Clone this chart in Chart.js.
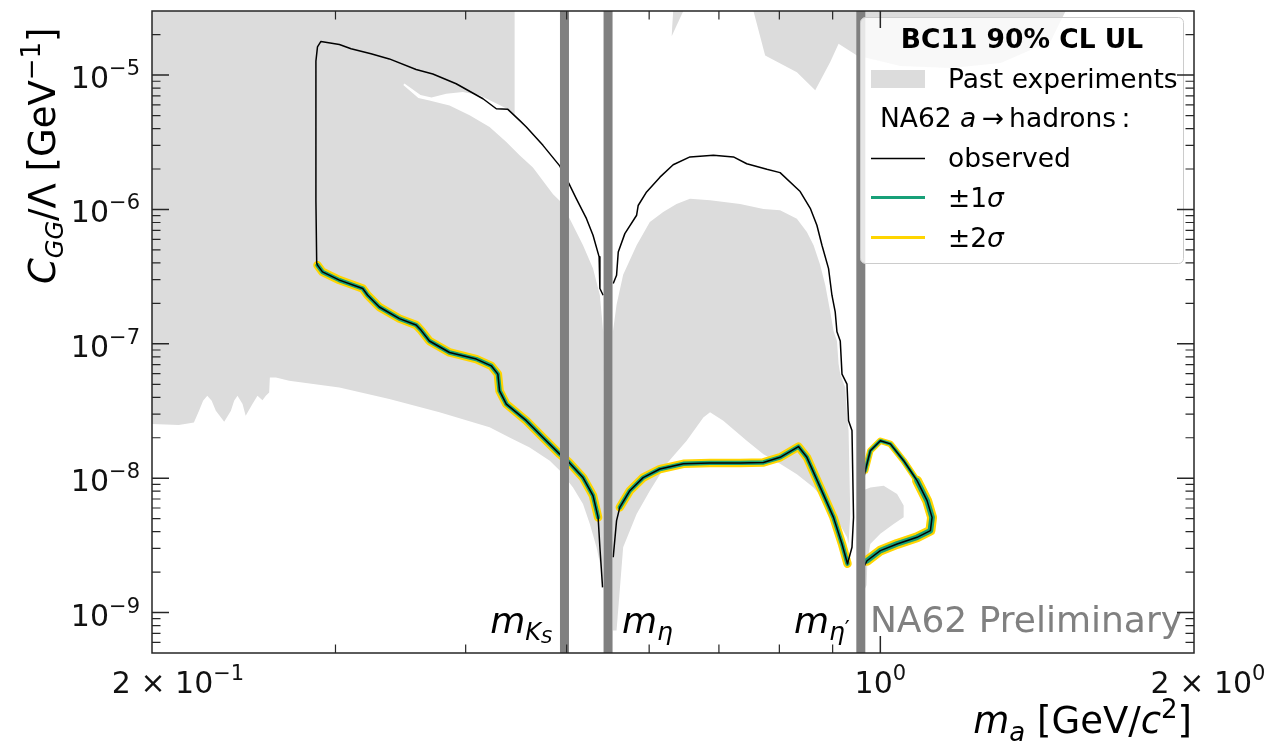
<!DOCTYPE html>
<html>
<head>
<meta charset="utf-8">
<title>BC11 90% CL UL – NA62 a → hadrons</title>
<script src="https://cdn.jsdelivr.net/npm/chart.js@4.4.1/dist/chart.umd.min.js"></script>
<style>
html,body{margin:0;padding:0;background:#ffffff;}
#wrap{width:1272px;height:747px;}
canvas{display:block;}
</style>
</head>
<body>
<div id="wrap"><canvas id="chart" width="1272" height="747"></canvas></div>
<script>
// ---------------- axis ranges / ticks ----------------
const xRange = [0.2, 2];            // m_a [GeV/c^2]
const yRange = [5e-10, 3e-5];       // C_GG/Lambda [GeV^-1]
const yMajorTicks = [1e-9, 1e-8, 1e-7, 1e-6, 1e-5];
const yTickExps = ['\u22129', '\u22128', '\u22127', '\u22126', '\u22125'];
const xMajorTicks = [1];
const xMinorTicks = [0.3, 0.4, 0.5, 0.6, 0.7, 0.8, 0.9];
const xTickLabelValues = [0.2, 1, 2];
const xTickLabelMant = ['2', '', '2'];
const xTickLabelExp = ['\u22121', '0', '0'];

// ---------------- meson masses (vertical bands) ----------------
const massValues = [0.4976, 0.5479, 0.9578];

// ---------------- NA62 observed limit contour ----------------
const obsLeftTop = [
  [0.2878,4.00e-7],[0.2873,1.16e-6],[0.2873,6.41e-6],[0.2873,1.27e-5],[0.2883,1.62e-5],[0.2905,1.78e-5],
  [0.3026,1.69e-5],[0.3105,1.57e-5],[0.3245,1.44e-5],[0.3379,1.32e-5],[0.3585,1.10e-5],[0.3720,1.02e-5],
  [0.3917,8.62e-6],[0.4156,6.67e-6],[0.4280,5.62e-6],[0.4391,5.56e-6],[0.4506,4.60e-6],[0.4574,4.11e-6],
  [0.4745,3.00e-6],[0.4924,2.11e-6],[0.5027,1.55e-6],[0.5109,1.20e-6],[0.5224,8.54e-7],[0.5300,6.43e-7],
  [0.5372,4.44e-7],[0.5381,2.58e-7],[0.5420,2.30e-7]
];
const obsLeftBottom = [
  [0.2883,3.85e-7],[0.2915,3.43e-7],[0.3026,2.98e-7],[0.3186,2.58e-7],[0.3221,2.30e-7],[0.3305,1.88e-7],
  [0.3455,1.54e-7],[0.3585,1.38e-7],[0.3625,1.26e-7],[0.3692,1.05e-7],[0.3860,8.62e-8],[0.4095,7.70e-8],
  [0.4233,6.86e-8],[0.4295,5.95e-8],[0.4311,4.47e-8],[0.4376,3.56e-8],[0.4574,2.68e-8],[0.4745,2.01e-8],
  [0.4924,1.51e-8],[0.5027,1.31e-8],[0.5184,1.01e-8],[0.5300,7.41e-9],[0.5360,5.11e-9],[0.5381,3.06e-9],
  [0.5413,1.54e-9]
];
const obsMidTop = [
  [0.5542,2.81e-7],[0.5583,3.24e-7],[0.5604,4.83e-7],[0.5686,6.61e-7],[0.5836,9.06e-7],[0.5856,1.07e-6],
  [0.5966,1.35e-6],[0.6145,1.74e-6],[0.6327,2.15e-6],[0.6566,2.46e-6],[0.6915,2.53e-6],[0.7228,2.46e-6],
  [0.7444,2.19e-6],[0.7782,1.99e-6],[0.8013,1.88e-6],[0.8377,1.36e-6],[0.8566,1.02e-6],[0.8692,7.63e-7],
  [0.8790,5.42e-7],[0.8919,3.63e-7],[0.8986,2.30e-7],[0.9051,1.73e-7],[0.9086,1.23e-7],[0.9153,1.05e-7],
  [0.9188,5.95e-8],[0.9290,5.02e-8],[0.9322,2.68e-8],[0.9393,2.26e-8],[0.9425,5.11e-9],[0.9393,3.06e-9],
  [0.9300,2.31e-9]
];
const obsMidBottom = [
  [0.5542,2.58e-9],[0.5583,4.83e-9],[0.5623,6.07e-9],[0.5749,8.07e-9],[0.5921,1.01e-8],[0.6145,1.17e-8],
  [0.6470,1.28e-8],[0.6864,1.30e-8],[0.7335,1.30e-8],[0.7724,1.31e-8],[0.8013,1.43e-8],[0.8345,1.72e-8],
  [0.8502,1.43e-8],[0.8757,8.54e-9],[0.9017,5.11e-9],[0.9188,3.24e-9],[0.9300,2.31e-9]
];
const obsRight = [
  [0.963,9.6e-9],[0.9673,1.14e-8],[0.9781,1.60e-8],[1.0000,1.90e-8],[1.0224,1.80e-8],[1.0529,1.35e-8],
  [1.0846,9.58e-9],[1.1089,6.80e-9],[1.1211,5.11e-9],[1.1170,4.07e-9],[1.0846,3.63e-9],[1.0377,3.24e-9],
  [1.0000,2.89e-9],[0.9710,2.43e-9],[0.963,2.15e-9]
];

// ---------------- past experiments (excluded regions) ----------------
const pastLeft = [
  [0.2,3e-5],[0.4457,3e-5],[0.4457,4.99e-6],[0.4391,5.56e-6],[0.4311,5.98e-6],[0.4125,7.07e-6],[0.3975,7.48e-6],
  [0.3832,7.26e-6],[0.3709,6.80e-6],[0.3620,7.10e-6],[0.3494,8.65e-6],[0.3485,8.43e-6],[0.3603,6.75e-6],
  [0.3692,6.46e-6],[0.3860,5.95e-6],[0.4035,5.02e-6],[0.4217,4.11e-6],[0.4376,3.18e-6],[0.4506,2.53e-6],
  [0.4641,2.05e-6],[0.4852,1.30e-6],[0.4924,1.16e-6],[0.5034,8.54e-7],[0.5184,5.42e-7],[0.5300,3.63e-7],
  [0.5381,2.30e-7],[0.5420,1.23e-7],[0.5422,1.46e-9],[0.5401,2.05e-9],[0.5341,3.06e-9],[0.5263,4.57e-9],
  [0.5184,6.43e-9],[0.5071,8.54e-9],[0.4924,1.14e-8],[0.4817,1.35e-8],[0.4608,1.69e-8],[0.4407,2.01e-8],
  [0.4217,2.39e-8],[0.3775,3.09e-8],[0.3379,3.88e-8],[0.3026,4.73e-8],[0.2708,5.31e-8],[0.2630,5.62e-8],
  [0.2595,5.62e-8],[0.2591,4.35e-8],[0.2572,4.11e-8],[0.2553,3.81e-8],[0.2525,4.11e-8],[0.2497,3.56e-8],
  [0.2460,2.92e-8],[0.2443,3.56e-8],[0.2416,4.11e-8],[0.2398,3.77e-8],[0.2381,3.18e-8],[0.2346,2.63e-8],
  [0.2303,3.18e-8],[0.2282,3.77e-8],[0.2260,4.11e-8],[0.2239,3.77e-8],[0.2219,3.18e-8],[0.2194,2.60e-8],
  [0.2122,2.49e-8],[0.2,2.53e-8]
];
const pastMid = [
  [0.5538,1.23e-7],[0.5583,1.95e-7],[0.5665,3.26e-7],[0.5836,5.42e-7],[0.6009,8.07e-7],[0.6189,9.58e-7],
  [0.6374,1.10e-6],[0.6566,1.20e-6],[0.6864,1.17e-6],[0.7335,1.10e-6],[0.7724,1.01e-6],[0.8013,9.87e-7],
  [0.8316,8.54e-7],[0.8502,6.80e-7],[0.8629,5.42e-7],[0.8757,3.85e-7],[0.8855,2.73e-7],[0.8952,1.73e-7],
  [0.9017,1.25e-7],[0.9086,1.05e-7],[0.9119,7.07e-8],[0.9153,5.95e-8],[0.9254,4.73e-8],[0.9290,3.00e-8],
  [0.9322,2.26e-8],[0.9358,5.45e-9],[0.9322,3.24e-9],[0.9290,3.63e-9],[0.8952,6.07e-9],[0.8629,8.54e-9],
  [0.8316,1.07e-8],[0.8013,1.28e-8],[0.7724,1.51e-8],[0.7444,1.90e-8],[0.7068,2.68e-8],[0.6864,3.09e-8],
  [0.6763,2.83e-8],[0.6518,1.90e-8],[0.6236,1.28e-8],[0.6009,8.07e-9],[0.5836,5.42e-9],[0.5665,3.06e-9],
  [0.5583,7.35e-10],[0.5538,7.35e-10]
];
const pastTopA = [[0.6327,3e-5],[0.6470,3e-5],[0.6306,1.95e-5]];
const pastTopB = [
  [0.7555,3e-5],[0.7753,1.40e-5],[0.8316,1.05e-5],[0.8660,7.70e-6],[0.8952,1.25e-5],[0.9119,1.71e-5],
  [0.9497,1.40e-5],[1.0452,1.17e-5],[1.168,1.13e-5],[1.3046,1.23e-5],[1.457,1.79e-5],[1.506,3e-5]
];
const pastRight = [
  [0.9609,8.07e-9],[0.9781,8.54e-9],[1.0074,8.79e-9],[1.0377,7.63e-9],[1.0529,6.25e-9],[1.0529,5.11e-9],
  [1.0299,4.57e-9],[1.0000,3.86e-9],[0.9781,3.24e-9],[0.9720,2.43e-9],[0.9700,1.60e-9],[0.9609,1.36e-9]
];

// ---------------- legend text ----------------
const legendTitle = 'BC11 90% CL UL';
const legendLabels = ['Past experiments', 'NA62', 'observed', '\u00b11', '\u00b12'];

// ---------------- styles ----------------
const GRAY_FILL = '#dcdcdc';
const BAND_GRAY = '#808080';
const GREEN = '#17a078';
const YELLOW = '#ffd500';
const FONT = '"DejaVu Sans", "Liberation Sans", sans-serif';

const P = arr => arr.map(([x, y]) => ({x, y}));

const datasets = [];
[pastLeft, pastMid, pastTopA, pastTopB, pastRight].forEach(poly => datasets.push({
  data: P(poly), fill: 'shape', backgroundColor: GRAY_FILL, borderColor: 'rgba(0,0,0,0)',
  borderWidth: 0, pointRadius: 0, order: 10, clip: 0
}));
// expected-limit bands drawn along the lower (sensitive) edges of the contour
const bandPaths = [
  {path: obsLeftBottom.slice(0, 23), y: 8.5, g: 4.4},
  {path: obsMidBottom.slice(2), y: 8.5, g: 4.4},
  {path: obsRight.slice(1, 7), y: 6.5, g: 3.6},
  {path: obsRight.slice(6, 14), y: 10, g: 5.6}
];
bandPaths.forEach(b => {
  datasets.push({data: P(b.path), borderColor: YELLOW, borderWidth: b.y, pointRadius: 0, fill: false,
    borderJoinStyle: 'round', borderCapStyle: 'round', order: 6, clip: 0});
  datasets.push({data: P(b.path), borderColor: GREEN, borderWidth: b.g, pointRadius: 0, fill: false,
    borderJoinStyle: 'round', borderCapStyle: 'round', order: 5, clip: 0});
});
const obsPaths = [
  [...obsLeftBottom].reverse().concat(obsLeftTop),
  obsMidBottom.concat([...obsMidTop].reverse()),
  obsRight
];
obsPaths.forEach(path => datasets.push({data: P(path), borderColor: '#000000', borderWidth: 1.5,
  pointRadius: 0, fill: false, borderJoinStyle: 'round', order: 4, clip: 0}));
massValues.forEach(m => datasets.push({data: P([[m, yRange[0]], [m, yRange[1]]]), borderColor: BAND_GRAY,
  borderWidth: 9, pointRadius: 0, fill: false, order: 2, clip: 0}));

// ---------------- text helpers ----------------
function runsWidth(ctx, runs) {
  let w = 0;
  for (const r of runs) { ctx.font = r.f; w += ctx.measureText(r.t).width + (r.gap || 0); }
  return w;
}
function drawRuns(ctx, runs, x, y, align) {
  const w = runsWidth(ctx, runs);
  let cx = align === 'right' ? x - w : (align === 'center' ? x - w / 2 : x);
  ctx.textAlign = 'left'; ctx.textBaseline = 'alphabetic';
  for (const r of runs) {
    ctx.font = r.f;
    ctx.fillText(r.t, cx, y + (r.dy || 0));
    cx += ctx.measureText(r.t).width + (r.gap || 0);
  }
}
const f = (size, style) => (style ? style + ' ' : '') + size + 'px ' + FONT;

const decoPlugin = {
  id: 'deco',
  afterDatasetsDraw(chart) {
    const {ctx, chartArea: a, scales: {x, y}} = chart;
    ctx.save();
    ctx.fillStyle = '#000';

    // meson mass labels
    const pK = x.getPixelForValue(massValues[0]);
    const pE = x.getPixelForValue(massValues[1]);
    const pEp = x.getPixelForValue(massValues[2]);
    const mBase = 633;
    drawRuns(ctx, [{t: 'm', f: f(36, 'italic')}, {t: 'K', f: f(24, 'italic'), dy: 7}, {t: 'S', f: f(18, 'italic'), dy: 10}], pK - 12, mBase, 'right');
    drawRuns(ctx, [{t: 'm', f: f(36, 'italic')}, {t: '\u03b7', f: f(25, 'italic'), dy: 7}], pE + 14, mBase, 'left');
    drawRuns(ctx, [{t: 'm', f: f(36, 'italic')}, {t: '\u03b7', f: f(25, 'italic'), dy: 7}, {t: '\u2032', f: f(22), dy: 3}], pEp - 11, mBase, 'right');

    // preliminary label
    ctx.fillStyle = '#808080';
    drawRuns(ctx, [{t: 'NA62 Preliminary', f: f(36)}], a.right - 12, 632, 'right');

    // legend box
    const L = {x: 860.5, y: 17.5, w: 323, h: 246, r: 5};
    ctx.beginPath();
    ctx.moveTo(L.x + L.r, L.y);
    ctx.arcTo(L.x + L.w, L.y, L.x + L.w, L.y + L.h, L.r);
    ctx.arcTo(L.x + L.w, L.y + L.h, L.x, L.y + L.h, L.r);
    ctx.arcTo(L.x, L.y + L.h, L.x, L.y, L.r);
    ctx.arcTo(L.x, L.y, L.x + L.w, L.y, L.r);
    ctx.closePath();
    ctx.fillStyle = 'rgba(255,255,255,0.8)';
    ctx.fill();
    ctx.strokeStyle = '#cccccc'; ctx.lineWidth = 1; ctx.stroke();

    ctx.fillStyle = '#000';
    ctx.font = 'bold ' + f(26.5); ctx.textAlign = 'center'; ctx.textBaseline = 'alphabetic';
    ctx.fillText(legendTitle, L.x + L.w / 2, 48);
    const hx0 = 871, hx1 = 925, tx = 948;
    // Past experiments
    ctx.fillStyle = GRAY_FILL; ctx.fillRect(hx0, 70, hx1 - hx0, 18);
    ctx.fillStyle = '#000';
    drawRuns(ctx, [{t: legendLabels[0], f: f(26.5)}], tx, 88, 'left');
    // NA62 a -> hadrons :
    drawRuns(ctx, [{t: legendLabels[1] + ' ', f: f(26.5)}, {t: 'a', f: f(26.5, 'italic')},
      {t: '\u2009\u2192\u2009', f: f(26.5)}, {t: 'hadrons', f: f(26.5)}, {t: '\u2009:', f: f(26.5)}], 880, 127, 'left');
    // lines
    const rows = [
      {yl: 158.5, c: '#000', w: 1.4, base: 167, runs: [{t: legendLabels[2], f: f(26.5)}]},
      {yl: 197.5, c: GREEN, w: 3, base: 207, runs: [{t: legendLabels[3], f: f(26.5)}, {t: '\u03c3', f: f(26.5, 'italic')}]},
      {yl: 237.5, c: YELLOW, w: 3, base: 247, runs: [{t: legendLabels[4], f: f(26.5)}, {t: '\u03c3', f: f(26.5, 'italic')}]}
    ];
    rows.forEach(r => {
      ctx.strokeStyle = r.c; ctx.lineWidth = r.w; ctx.beginPath();
      ctx.moveTo(hx0, r.yl); ctx.lineTo(hx1, r.yl); ctx.stroke();
      ctx.fillStyle = '#000';
      drawRuns(ctx, r.runs, tx, r.base, 'left');
    });

    // frame
    ctx.strokeStyle = '#262626'; ctx.lineWidth = 1.5;
    ctx.strokeRect(a.left, a.top, a.right - a.left, a.bottom - a.top);

    // ticks (inward, all sides)
    const MAJ = 17, MIN = 8.5;
    const yTick = (v, len, lw) => {
      const p = y.getPixelForValue(v);
      ctx.lineWidth = lw; ctx.beginPath();
      ctx.moveTo(a.left, p); ctx.lineTo(a.left + len, p);
      ctx.moveTo(a.right, p); ctx.lineTo(a.right - len, p);
      ctx.stroke();
    };
    const xTick = (v, len, lw) => {
      const p = x.getPixelForValue(v);
      ctx.lineWidth = lw; ctx.beginPath();
      ctx.moveTo(p, a.bottom); ctx.lineTo(p, a.bottom - len);
      ctx.moveTo(p, a.top); ctx.lineTo(p, a.top + len);
      ctx.stroke();
    };
    ctx.strokeStyle = '#262626';
    for (let d = -10; d <= -5; d++) {
      for (let k = 2; k <= 9; k++) {
        const v = k * Math.pow(10, d);
        if (v > yRange[0] * 1.001 && v < yRange[1] * 0.999) yTick(v, MIN, 1.2);
      }
    }
    yMajorTicks.forEach(v => yTick(v, MAJ, 1.5));
    xMinorTicks.forEach(v => xTick(v, MIN, 1.2));
    xMajorTicks.forEach(v => xTick(v, MAJ, 1.5));

    // tick labels
    ctx.fillStyle = '#111';
    yMajorTicks.forEach((v, i) => {
      const p = y.getPixelForValue(v);
      drawRuns(ctx, [{t: '10', f: f(30)}, {t: yTickExps[i], f: f(21), dy: -13}], 140, p + 13, 'right');
    });
    const xOff = [26, 0, 14];
    xTickLabelValues.forEach((v, i) => {
      const p = x.getPixelForValue(v) + xOff[i];
      const runs = [];
      if (xTickLabelMant[i]) runs.push({t: xTickLabelMant[i] + ' \u00d7 ', f: f(30)});
      runs.push({t: '10', f: f(30)}, {t: xTickLabelExp[i], f: f(21), dy: -13});
      drawRuns(ctx, runs, p, 693, 'center');
    });

    // axis titles
    ctx.fillStyle = '#000';
    drawRuns(ctx, [{t: 'm', f: f(37, 'italic')}, {t: 'a', f: f(26, 'italic'), dy: 8},
      {t: ' [GeV/', f: f(37)}, {t: 'c', f: f(37, 'italic')}, {t: '2', f: f(26), dy: -15}, {t: ']', f: f(37)}],
      a.right - 2, 733, 'right');
    ctx.save();
    ctx.translate(55, 284);
    ctx.rotate(-Math.PI / 2);
    drawRuns(ctx, [{t: 'C', f: f(37, 'italic')}, {t: 'GG', f: f(24, 'italic'), dy: 8},
      {t: '/\u039b [GeV', f: f(37)}, {t: '\u22121', f: f(26), dy: -15}, {t: ']', f: f(37)}], 0, 0, 'left');
    ctx.restore();

    ctx.restore();
  }
};

new Chart(document.getElementById('chart'), {
  type: 'line',
  data: {datasets},
  options: {
    responsive: false,
    devicePixelRatio: 1,
    animation: false,
    events: [],
    layout: {padding: {left: 152, right: 78, top: 11, bottom: 94}},
    elements: {line: {tension: 0}, point: {radius: 0}},
    scales: {
      x: {type: 'logarithmic', min: xRange[0], max: xRange[1], display: false, bounds: 'data'},
      y: {type: 'logarithmic', min: yRange[0], max: yRange[1], display: false, bounds: 'data'}
    },
    plugins: {legend: {display: false}, tooltip: {enabled: false}, filler: {propagate: false}}
  },
  plugins: [decoPlugin]
});
</script>
</body>
</html>
